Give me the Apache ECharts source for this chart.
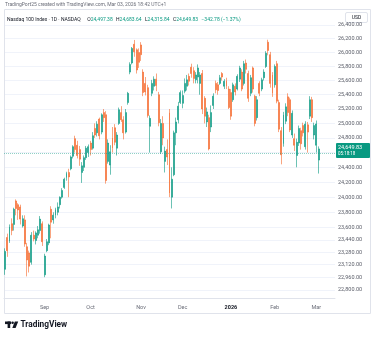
<!DOCTYPE html>
<html>
<head>
<meta charset="utf-8">
<script src="https://cdn.jsdelivr.net/npm/echarts@6/dist/echarts.min.js"></script>
<style>
  html, body { margin: 0; padding: 0; background: #ffffff; }
  #chart { width: 375px; height: 337px; }
</style>
</head>
<body>
<div id="chart"></div>
<script>
// Nasdaq 100 Index, daily candles, Aug 2025 - Mar 2026
const dates = [
  '2025-08-06','2025-08-07','2025-08-08','2025-08-11','2025-08-12','2025-08-13','2025-08-14','2025-08-15',
  '2025-08-18','2025-08-19','2025-08-20','2025-08-21','2025-08-22','2025-08-25','2025-08-26','2025-08-27',
  '2025-08-28','2025-08-29',
  '2025-09-02','2025-09-03','2025-09-04','2025-09-05','2025-09-08','2025-09-09','2025-09-10','2025-09-11',
  '2025-09-12','2025-09-15','2025-09-16','2025-09-17','2025-09-18','2025-09-19','2025-09-22','2025-09-23',
  '2025-09-24','2025-09-25','2025-09-26','2025-09-29','2025-09-30',
  '2025-10-01','2025-10-02','2025-10-03','2025-10-06','2025-10-07','2025-10-08','2025-10-09','2025-10-10',
  '2025-10-13','2025-10-14','2025-10-15','2025-10-16','2025-10-17','2025-10-20','2025-10-21','2025-10-22',
  '2025-10-23','2025-10-24','2025-10-27','2025-10-28','2025-10-29','2025-10-30','2025-10-31',
  '2025-11-03','2025-11-04','2025-11-05','2025-11-06','2025-11-07','2025-11-10','2025-11-11','2025-11-12',
  '2025-11-13','2025-11-14','2025-11-17','2025-11-18','2025-11-19','2025-11-20','2025-11-21','2025-11-24',
  '2025-11-25','2025-11-26','2025-11-28',
  '2025-12-01','2025-12-02','2025-12-03','2025-12-04','2025-12-05','2025-12-08','2025-12-09','2025-12-10',
  '2025-12-11','2025-12-12','2025-12-15','2025-12-16','2025-12-17','2025-12-18','2025-12-19','2025-12-22',
  '2025-12-23','2025-12-24','2025-12-26','2025-12-29','2025-12-30','2025-12-31',
  '2026-01-02','2026-01-05','2026-01-06','2026-01-07','2026-01-08','2026-01-09','2026-01-12','2026-01-13',
  '2026-01-14','2026-01-15','2026-01-16','2026-01-20','2026-01-21','2026-01-22','2026-01-23','2026-01-26',
  '2026-01-27','2026-01-28','2026-01-29','2026-01-30',
  '2026-02-02','2026-02-03','2026-02-04','2026-02-05','2026-02-06','2026-02-09','2026-02-10','2026-02-11',
  '2026-02-12','2026-02-13','2026-02-17','2026-02-18','2026-02-19','2026-02-20','2026-02-23','2026-02-24',
  '2026-02-25','2026-02-26','2026-02-27',
  '2026-03-02','2026-03-03'
];
// empty sessions kept as right-hand margin of the time scale
const futureDates = ['2026-03-04','2026-03-05','2026-03-06','2026-03-09','2026-03-10','2026-03-11','2026-03-12'];

const opens = [
  23060,23470,23420,23650,23640,23950,23900,23870,23620,23700,23350,23270,23150,23500,23430,23500,23560,23650,
  22990,23300,23400,23840,23700,23760,23800,23900,24000,24130,24260,24330,24380,24550,24790,24700,24640,24330,24400,24530,24600,
  24730,24660,24930,24870,25060,24880,25150,25120,24480,24430,24800,24940,24660,25000,25150,25050,24880,25290,25720,25850,26120,26040,26000,
  26110,25720,25560,25500,24960,25420,25520,25620,25400,24610,25000,24480,24640,25150,24000,24300,24870,25050,25290,
  25280,25450,25520,25660,25790,25740,25610,25650,25560,25700,25350,25020,25080,24950,25250,25560,25540,25560,25700,25520,25600,25480,
  25430,25330,25520,25480,25620,25720,25560,25850,25700,25420,25780,25380,25080,25560,25480,25640,25800,26150,25970,25680,
  25540,25840,25290,24900,24720,25030,25370,25330,24840,24790,24560,24730,24900,24970,24680,24980,25100,25330,24840,
  24700,24497.38
];
const highs = [
  23330,23520,23640,23720,23860,23970,23920,23900,23760,23760,23400,23300,23540,23560,23550,23620,23750,23680,
  23260,23450,23650,23880,23800,23860,23930,24010,24120,24260,24340,24380,24560,24700,24830,24760,24690,24470,24560,24690,24710,
  24760,24880,25000,25030,25080,25140,25200,25170,24780,24700,24950,24990,24880,25220,25240,25100,25200,25440,25860,26080,26182,26060,26060,
  26150,25760,25650,25540,25110,25610,25660,25700,25440,25060,25100,24680,24780,25200,24400,24900,25080,25300,25460,
  25460,25630,25680,25700,25840,25790,25720,25830,25720,25750,25380,25220,25120,25250,25420,25600,25580,25680,25720,25620,25640,25520,
  25480,25570,25560,25690,25810,25760,25880,25900,25740,25680,25800,25400,25380,25590,25640,25760,26020,26185,26010,25720,
  25830,25880,25330,24950,25160,25280,25420,25360,25180,24860,24790,24970,24940,25010,25030,25020,25380,25370,25010,
  25040,24683.64
];
const lows = [
  22990,23220,23400,23500,23560,23760,23700,23640,23600,23350,22970,23020,23120,23420,23380,23460,23520,23360,
  22960,23280,23370,23460,23650,23720,23760,23850,23980,24110,24220,24000,24360,24520,24600,24520,24420,24190,24350,24500,24540,
  24560,24640,24800,24820,24780,24850,25020,24180,24450,24300,24600,24700,24560,24980,25020,24780,24860,25260,25690,25830,25940,25700,25780,
  25880,25380,25390,25080,24600,25380,25460,25450,24960,24580,24700,24330,24430,24000,23850,24280,24700,25000,25270,
  25210,25420,25460,25530,25640,25560,25560,25560,25400,25130,25000,24950,24630,24880,25200,25420,25400,25540,25600,25480,25480,25200,
  25050,25300,25390,25460,25580,25450,25530,25700,25300,25380,25430,24960,25040,25380,25450,25600,25780,25960,25500,25370,
  25500,25280,24880,24440,24680,24990,25100,24880,24800,24620,24400,24690,24640,24820,24640,24600,25060,25020,24780,
  24600,24315.84
];
const closes = [
  23290,23300,23610,23560,23840,23850,23830,23710,23715,23385,23180,23100,23500,23450,23530,23570,23710,23415,
  23230,23415,23633,23670,23762,23838,23870,24000,24090,24240,24320,24270,24540,24680,24640,24560,24510,24420,24530,24660,24680,
  24640,24830,24840,24990,24830,25120,25080,24222,24730,24610,24660,24740,24840,25190,25050,24870,25150,25420,25830,26060,26010,25750,25860,
  25970,25430,25440,25110,25070,25560,25620,25530,25010,25000,24800,24620,24540,24054,24240,24870,25020,25240,25430,
  25390,25560,25610,25590,25700,25630,25680,25780,25680,25200,25100,25160,24650,25150,25380,25470,25460,25640,25650,25590,25520,25220,
  25100,25540,25440,25660,25780,25480,25840,25760,25350,25640,25480,25000,25330,25420,25610,25720,25990,26030,25560,25420,
  25800,25310,24920,24570,25120,25230,25150,24910,25140,24700,24740,24930,24720,24870,24990,24880,25330,25080,24970,
  24992.61,24649.83
];

// price scale ticks (log spaced scale, as on the source chart)
const priceTicks = [26400,26200,26000,25800,25600,25400,25200,25000,24800,24600,24400,24200,24000,23800,23600,
  23440,23280,23120,22960,22800];
const hiddenPriceLabels = [24600]; // covered by the last-price tag
const priceMin = 22697;
const priceMax = 26605;

const monthLabels = {
  '2025-09-02': 'Sep', '2025-10-01': 'Oct', '2025-11-03': 'Nov', '2025-12-01': 'Dec',
  '2026-01-02': '2026', '2026-02-02': 'Feb', '2026-03-02': 'Mar'
};

const header = 'TradingPort25 created with TradingView.com, Mar 03, 2026 18:42 UTC+1';
const symbolTitle = 'Nasdaq 100 Index · 1D · NASDAQ';
const lastOHLC = { o: '24,497.38', h: '24,683.64', l: '24,315.84', c: '24,649.83', chg: '−342.78 (−1.37%)' };
const countdown = '05:18:18';

const UP = '#089981';
const DOWN = '#F5682A';
const FONT = 'Roboto, "Noto Sans", sans-serif';

function fmtPrice(v) {
  const parts = v.toFixed(2).split('.');
  parts[0] = parts[0].replace(/\B(?=(\d{3})+(?!\d))/g, ',');
  return parts.join('.');
}

// the price axis is logarithmic: plot ln(price) on a value axis
const ln = Math.log;
const allDates = dates.concat(futureDates);
const candles = dates.map((d, i) => [ln(opens[i]), ln(closes[i]), ln(lows[i]), ln(highs[i])]);
const lastClose = closes[closes.length - 1];

const chart = echarts.init(document.getElementById('chart'), null, { renderer: 'canvas' });

chart.setOption({
  animation: false,
  backgroundColor: '#ffffff',
  grid: { left: 4, right: 40, top: 11, bottom: 39, containLabel: false },
  xAxis: {
    type: 'category',
    data: allDates,
    boundaryGap: true,
    axisLine: { show: true, lineStyle: { color: '#e0e3eb', width: 1 } },
    axisTick: { show: false },
    splitLine: { show: false },
    axisLabel: {
      interval: (idx, val) => monthLabels[val] !== undefined,
      formatter: (val) => monthLabels[val] === '2026' ? '{y|2026}' : (monthLabels[val] || ''),
      color: '#6a6d78',
      fontFamily: FONT,
      fontSize: 5.5,
      margin: 7,
      hideOverlap: false,
      rich: { y: { color: '#131722', fontWeight: 'bold', fontSize: 5.5, fontFamily: FONT } }
    }
  },
  yAxis: {
    type: 'value',
    position: 'right',
    scale: true,
    min: ln(priceMin),
    max: ln(priceMax),
    axisLine: { show: false },
    axisTick: { show: false, customValues: priceTicks.map(ln) },
    splitLine: { show: true, lineStyle: { color: '#f0f3fa', width: 1 } },
    axisLabel: {
      customValues: priceTicks.filter(p => hiddenPriceLabels.indexOf(p) < 0).map(ln),
      formatter: (v) => fmtPrice(Math.round(Math.exp(v))),
      color: '#5d606b',
      fontFamily: FONT,
      fontSize: 5.5,
      margin: 3,
      align: 'left'
    }
  },
  series: [{
    type: 'candlestick',
    data: candles,
    barWidth: '66%',
    itemStyle: {
      color: UP, color0: DOWN,
      borderColor: UP, borderColor0: DOWN,
      borderWidth: 0.6
    },
    markLine: {
      silent: true,
      symbol: ['none', 'none'],
      label: { show: false },
      lineStyle: { color: UP, type: [1, 1], width: 1, opacity: 0.45 },
      data: [{ yAxis: ln(lastClose) }]
    }
  }]
});

// overlay text and badges
const tagY = chart.convertToPixel({ yAxisIndex: 0 }, ln(lastClose));
chart.setOption({
  graphic: [
    { type: 'rect', z: 0, silent: true,
      shape: { x: 4.5, y: 9.5, width: 366, height: 304 },
      style: { fill: 'none', stroke: '#e0e3eb', lineWidth: 1 } },
    { type: 'text', left: 5, top: 2, silent: true,
      style: { text: header, font: '5px ' + FONT, fill: '#6a6d78' } },
    { type: 'text', left: 7, top: 13.5, z: 10, silent: true,
      style: {
        text: '{t|' + symbolTitle + '}  {k|O}{v|' + lastOHLC.o + '} {k|H}{v|' + lastOHLC.h + '} {k|L}{v|' +
              lastOHLC.l + '} {k|C}{v|' + lastOHLC.c + '} {v|' + lastOHLC.chg + '}',
        rich: {
          t: { fill: '#131722', fontSize: 5, fontFamily: FONT },
          k: { fill: '#131722', fontSize: 5, fontFamily: FONT },
          v: { fill: UP, fontSize: 5, fontFamily: FONT }
        }
      } },
    { type: 'group', z: 10, silent: true, children: [
      { type: 'rect', shape: { x: 345.5, y: 12.5, width: 22, height: 10, r: 1.5 },
        style: { fill: '#ffffff', stroke: '#e0e3eb', lineWidth: 1 } },
      { type: 'text', x: 356.5, y: 17.5,
        style: { text: 'USD', font: '5px ' + FONT, fill: '#131722', align: 'center', verticalAlign: 'middle' } }
    ] },
    { type: 'group', z: 10, silent: true, children: [
      { type: 'rect', shape: { x: 336, y: tagY - 6, width: 34, height: 15, r: 1 },
        style: { fill: UP } },
      { type: 'text', x: 338, y: tagY - 1.5,
        style: { text: fmtPrice(lastClose), font: '5.5px ' + FONT, fill: '#ffffff', verticalAlign: 'middle' } },
      { type: 'text', x: 338, y: tagY + 4.5,
        style: { text: countdown, font: '4.5px ' + FONT, fill: '#ffffff', verticalAlign: 'middle' } }
    ] },
    { type: 'group', silent: true, children: [
      { type: 'rect', shape: { x: 5, y: 321.5, width: 6, height: 2.6 }, style: { fill: '#131722' } },
      { type: 'rect', shape: { x: 7.6, y: 321.5, width: 2.6, height: 6.5 }, style: { fill: '#131722' } },
      { type: 'circle', shape: { cx: 12.6, cy: 322.8, r: 1.3 }, style: { fill: '#131722' } },
      { type: 'polygon', shape: { points: [[14.8, 321.5], [18.2, 321.5], [15.6, 328], [12.3, 328]] },
        style: { fill: '#131722' } },
      { type: 'text', x: 20.5, y: 325,
        style: { text: 'TradingView', font: 'bold 8.3px ' + FONT, fill: '#131722', verticalAlign: 'middle' } }
    ] }
  ]
});
</script>
</body>
</html>
